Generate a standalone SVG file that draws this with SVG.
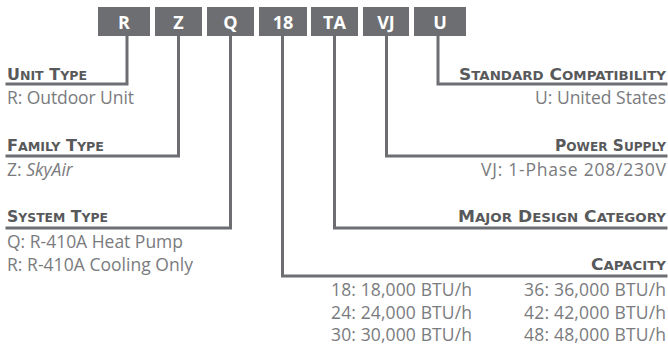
<svg xmlns="http://www.w3.org/2000/svg" width="668" height="346" viewBox="0 0 668 346">
<style>
.box{fill:#6d6e71}
.bt{font-family:"Open Sans","DejaVu Sans",sans-serif;font-weight:700;font-size:18px;fill:#ffffff;text-anchor:middle}
.ln{fill:none;stroke:#6d6e71;stroke-width:3;stroke-linecap:square}
.hd{font-family:"DejaVu Sans","Open Sans",sans-serif;font-weight:700;font-size:15.5px;fill:#58595b}
.sc{font-size:12.2px}
.ds{font-family:"Open Sans","DejaVu Sans",sans-serif;font-size:17.5px;fill:#7a7b7e}
.r{text-anchor:end}
</style>
<rect width="668" height="346" fill="#ffffff"/>
<g id="connectors">
<polyline class="ln" points="127,37 127,84 7,84"/>
<polyline class="ln" points="178.5,37 178.5,156 7,156"/>
<polyline class="ln" points="230.5,37 230.5,228 7,228"/>
<polyline class="ln" points="282.5,37 282.5,276 666,276"/>
<polyline class="ln" points="334.5,37 334.5,228 666,228"/>
<polyline class="ln" points="386.5,37 386.5,156 666,156"/>
<polyline class="ln" points="438,37 438,84 666,84"/>
</g>
<g id="code-R"><rect class="box" x="98" y="7" width="52" height="29"/><text class="bt" x="124" y="29">R</text></g>
<g id="code-Z"><rect class="box" x="155" y="7" width="47" height="29"/><text class="bt" x="178.5" y="29">Z</text></g>
<g id="code-Q"><rect class="box" x="207" y="7" width="47" height="29"/><text class="bt" x="230.5" y="29">Q</text></g>
<g id="code-18"><rect class="box" x="259" y="7" width="48" height="29"/><text class="bt" x="283" y="29">18</text></g>
<g id="code-TA"><rect class="box" x="311" y="7" width="47" height="29"/><text class="bt" x="334.5" y="29">TA</text></g>
<g id="code-VJ"><rect class="box" x="363" y="7" width="46" height="29"/><text class="bt" x="386" y="29">VJ</text></g>
<g id="code-U"><rect class="box" x="414" y="7" width="52" height="29"/><text class="bt" x="440" y="29">U</text></g>
<g id="unit-type"><text class="hd" x="7" y="80" textLength="80" lengthAdjust="spacingAndGlyphs">U<tspan class="sc">NIT</tspan> T<tspan class="sc">YPE</tspan></text><text class="ds" x="7" y="104" textLength="127" lengthAdjust="spacing">R: Outdoor Unit</text></g>
<g id="family-type"><text class="hd" x="7" y="151" textLength="97" lengthAdjust="spacingAndGlyphs">F<tspan class="sc">AMILY</tspan> T<tspan class="sc">YPE</tspan></text><text class="ds" x="7" y="176">Z: <tspan font-style="italic">SkyAir</tspan></text></g>
<g id="system-type"><text class="hd" x="7" y="222" textLength="101" lengthAdjust="spacingAndGlyphs">S<tspan class="sc">YSTEM</tspan> T<tspan class="sc">YPE</tspan></text><text class="ds" x="7" y="248" textLength="176" lengthAdjust="spacing">Q: R-410A Heat Pump</text><text class="ds" x="7" y="271" textLength="186" lengthAdjust="spacing">R: R-410A Cooling Only</text></g>
<g id="standard-compatibility"><text class="hd r" x="666" y="80" textLength="207" lengthAdjust="spacingAndGlyphs">S<tspan class="sc">TANDARD</tspan> C<tspan class="sc">OMPATIBILITY</tspan></text><text class="ds r" x="666" y="104" textLength="131" lengthAdjust="spacing">U: United States</text></g>
<g id="power-supply"><text class="hd r" x="666" y="151" textLength="111" lengthAdjust="spacingAndGlyphs">P<tspan class="sc">OWER</tspan> S<tspan class="sc">UPPLY</tspan></text><text class="ds r" x="666" y="176" textLength="185" lengthAdjust="spacing">VJ: 1-Phase 208/230V</text></g>
<g id="major-design-category"><text class="hd r" x="666" y="222" textLength="208" lengthAdjust="spacingAndGlyphs">M<tspan class="sc">AJOR</tspan> D<tspan class="sc">ESIGN</tspan> C<tspan class="sc">ATEGORY</tspan></text></g>
<g id="capacity"><text class="hd r" x="666" y="270" textLength="75" lengthAdjust="spacingAndGlyphs">C<tspan class="sc">APACITY</tspan></text>
<text class="ds r" x="472" y="296" textLength="141" lengthAdjust="spacing">18: 18,000 BTU/h</text><text class="ds r" x="472" y="319" textLength="141" lengthAdjust="spacing">24: 24,000 BTU/h</text><text class="ds r" x="472" y="341" textLength="141" lengthAdjust="spacing">30: 30,000 BTU/h</text>
<text class="ds r" x="666" y="296" textLength="142" lengthAdjust="spacing">36: 36,000 BTU/h</text><text class="ds r" x="666" y="319" textLength="142" lengthAdjust="spacing">42: 42,000 BTU/h</text><text class="ds r" x="666" y="341" textLength="142" lengthAdjust="spacing">48: 48,000 BTU/h</text></g>
</svg>
